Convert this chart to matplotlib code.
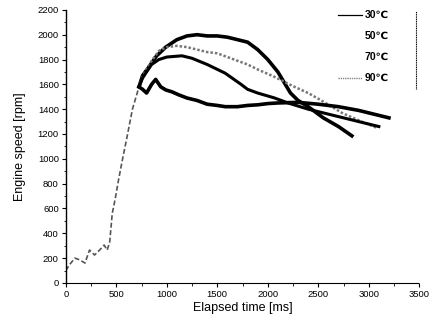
import matplotlib
matplotlib.use("Agg")
import matplotlib.pyplot as plt
from matplotlib.lines import Line2D
from matplotlib.ticker import MultipleLocator

plt.rcParams['font.family'] = ['Liberation Sans', 'DejaVu Sans']

# shared start-up part (all temperatures overlap here)
t_start = [0, 40, 90, 140, 190, 235, 285, 335, 380, 410, 435, 460, 490, 520, 560, 600, 660, 725]
rpm_start = [100, 150, 200, 185, 160, 265, 225, 265, 305, 265, 330, 560, 680, 820, 990, 1150, 1400, 1580]

# 30 C - highest curve
t_30 = [760, 823, 900, 990, 1100, 1200, 1300, 1400, 1500, 1600, 1700, 1800, 1900, 2000,
        2100, 2225, 2300, 2400, 2550, 2700, 2833]
rpm_30 = [1670, 1740, 1830, 1900, 1960, 1990, 2000, 1990, 1990, 1980, 1960, 1940, 1880, 1800,
          1700, 1530, 1470, 1420, 1330, 1260, 1185]

# 50 C
t_50 = [760, 800, 850, 922, 1000, 1100, 1200, 1300, 1400, 1500, 1600, 1700, 1800, 1900,
        2068, 2225, 2400, 2520, 2735, 2900, 3078]
rpm_50 = [1660, 1720, 1790, 1870, 1900, 1910, 1900, 1880, 1860, 1850, 1820, 1790, 1760, 1720,
          1660, 1595, 1530, 1475, 1370, 1310, 1250]

# 70 C
t_70 = [760, 800, 850, 922, 1000, 1150, 1250, 1400, 1578, 1735, 1800, 1900, 2068, 2200,
        2400, 2600, 2800, 3000, 3100]
rpm_70 = [1650, 1700, 1760, 1800, 1820, 1830, 1810, 1760, 1690, 1600, 1560, 1530, 1490, 1450,
          1400, 1360, 1320, 1280, 1260]

# 90 C - lowest curve
t_90 = [760, 800, 850, 890, 940, 990, 1050, 1120, 1200, 1300, 1400, 1500, 1580, 1700, 1800,
        1900, 2000, 2100, 2300, 2500, 2700, 2900, 3050, 3200]
rpm_90 = [1560, 1530, 1600, 1640, 1580, 1555, 1540, 1515, 1490, 1470, 1440, 1430, 1420, 1420,
          1430, 1435, 1445, 1450, 1455, 1440, 1420, 1390, 1360, 1330]

labels = ['30\u2103', '50\u2103', '70\u2103', '90\u2103']

fig = plt.figure(figsize=(4.30, 3.29), dpi=100)
ax = fig.add_axes([0.153, 0.140, 0.822, 0.830])

ax.plot(t_start, rpm_start, color='#555555', lw=1.2, ls=(0, (3, 1.5)))
ax.plot([t_start[-1]] + t_30, [rpm_start[-1]] + rpm_30, color='black', lw=2.6)
ax.plot([t_start[-1]] + t_50, [rpm_start[-1]] + rpm_50, color='#777777', lw=1.8, ls=(0, (1, 0.8)))
ax.plot([t_start[-1]] + t_70, [rpm_start[-1]] + rpm_70, color='black', lw=2.2)
ax.plot([t_start[-1]] + t_90, [rpm_start[-1]] + rpm_90, color='black', lw=2.6)

ax.set_xlim(0, 3500)
ax.set_ylim(0, 2200)
ax.xaxis.set_major_locator(MultipleLocator(500))
ax.xaxis.set_minor_locator(MultipleLocator(250))
ax.yaxis.set_major_locator(MultipleLocator(200))
ax.yaxis.set_minor_locator(MultipleLocator(100))
ax.tick_params(which='major', direction='out', length=3, width=0.8, labelsize=6.8, pad=2)
ax.tick_params(which='minor', direction='out', length=1.8, width=0.6)
for s in ['top', 'right']:
    ax.spines[s].set_visible(False)
ax.spines['left'].set_linewidth(1.0)
ax.spines['bottom'].set_linewidth(0.8)
ax.spines['bottom'].set_linestyle((0, (2, 1)))

ax.set_xlabel('Elapsed time [ms]', fontsize=9, labelpad=2)
ax.set_ylabel('Engine speed [rpm]', fontsize=9, labelpad=8)

handles = [
    Line2D([], [], color='black', lw=0.9),
    Line2D([], [], color='white', lw=0.9),
    Line2D([], [], color='white', lw=0.9),
    Line2D([], [], color='#888888', lw=1.0, ls=(0, (1, 0.6))),
]
leg = ax.legend(handles, labels, loc='upper right', bbox_to_anchor=(0.935, 1.025),
                frameon=False, fontsize=7.5, handlelength=2.3, handletextpad=0.3,
                labelspacing=1.05, borderaxespad=0.3)
for txt in leg.get_texts():
    txt.set_fontweight('bold')

# right edge of the legend box (only part that shows)
ax.add_line(Line2D([0.99, 0.99], [0.71, 0.995], transform=ax.transAxes,
                   color='black', lw=0.8, ls=(0, (1, 0.6))))

fig.savefig('out.png', dpi=100)
